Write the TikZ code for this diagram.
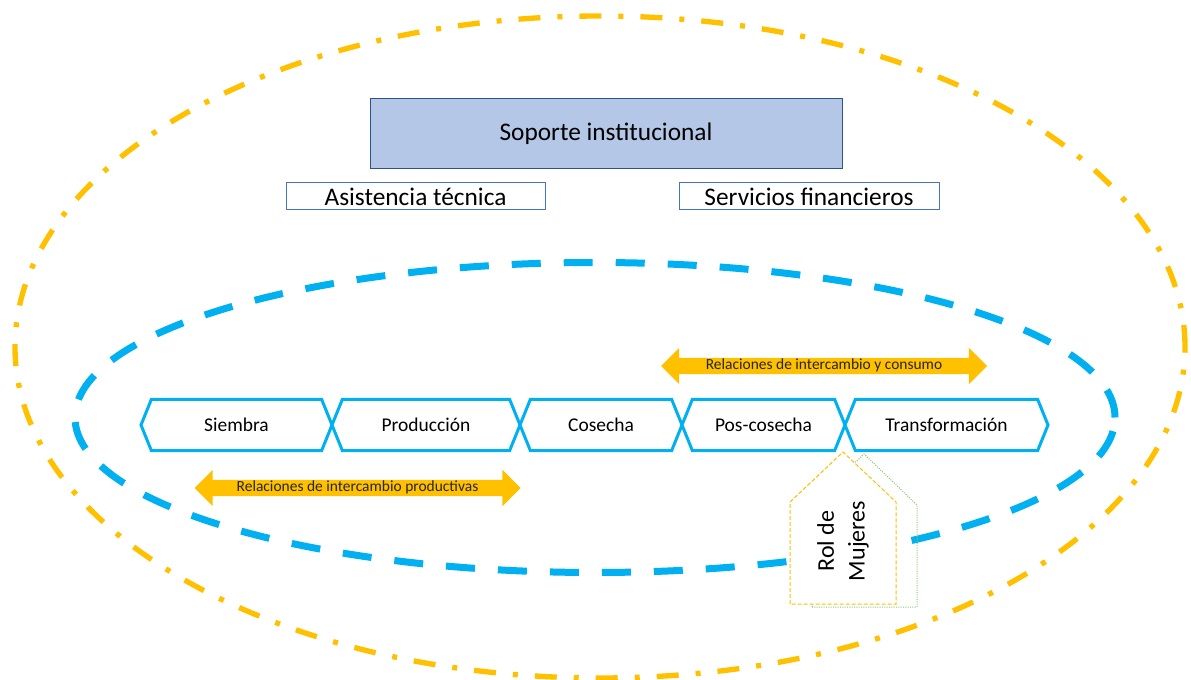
\documentclass[tikz,border=0pt]{standalone}
\usepackage{fontspec}
\setmainfont{Carlito}
\usetikzlibrary{shapes.symbols,shapes.arrows,positioning}
\definecolor{naranja}{HTML}{FFC000}
\definecolor{celeste}{HTML}{00B0F0}
\definecolor{azulfondo}{HTML}{B4C7E7}
\definecolor{azulborde}{HTML}{2F528F}
\definecolor{azulmarco}{HTML}{4472C4}
\definecolor{verde}{HTML}{8CC168}
\definecolor{texto}{HTML}{262626}
\tikzset{
	eslabon/.style={draw=celeste,line width=2.25pt,fill=white,signal,signal to=west and east,signal pointer angle=136,minimum height=38.25pt,inner xsep=0pt,outer sep=0pt,font=\fontsize{14.6}{17}\selectfont},
	servicio/.style={draw=azulmarco,line width=0.75pt,minimum width=194.25pt,minimum height=20.25pt,inner sep=0pt,font=\fontsize{19}{22}\selectfont},
	relacion/.style={double arrow,fill=naranja,minimum height=244.5pt,double arrow head extend=7.5pt,inner xsep=0pt,inner ysep=0.3pt,text height=8.5pt,text depth=2.6pt,font=\fontsize{11.6}{13}\selectfont,text=texto}
}
\begin{document}
\begin{tikzpicture}[x=0.75pt,y=-0.75pt]
		\useasboundingbox (0,0) rectangle (1191,680);
		% entornos
		\draw[naranja,line width=4pt,dash pattern=on 16.5pt off 12.75pt on 3.75pt off 12.75pt] (600,347) ellipse [x radius=438.75pt,y radius=248.25pt];
		\draw[celeste,line width=5.25pt,dash pattern=on 21.75pt off 17.25pt] (595,417.5) ellipse [x radius=390pt,y radius=116.25pt];
		% soporte
		\node[draw=azulborde,fill=azulfondo,line width=0.75pt,minimum width=354pt,minimum height=52.5pt,font=\fontsize{19}{22}\selectfont] (soporte) at (606,134) {Soporte institucional};
		\node[servicio] (asistencia) at (415.5,196.5) {Asistencia técnica};
		\node[servicio,minimum width=195pt] (financieros) at (809,196.5) {Servicios financieros};
		% cadena
		\node[eslabon,minimum width=143.25pt] (siembra) at (236.5,425) {Siembra};
		\node[eslabon,minimum width=141pt] (produccion) at (426,425) {Producción};
		\node[eslabon,minimum width=121.5pt] (cosecha) at (601,425) {Cosecha};
		\node[eslabon,minimum width=122.25pt] (poscosecha) at (763.5,425) {Pos-cosecha};
		\node[eslabon,minimum width=152.25pt] (transformacion) at (946.5,425) {Transformación};
		% relaciones
		\node[relacion] (consumo) at (824,366) {Relaciones de intercambio y consumo};
		\node[relacion] (productivas) at (357.5,488) {Relaciones de intercambio productivas};
		% rol de mujeres
		\draw[verde,densely dotted,line width=0.75pt] (812,607) -- (917,607) -- (917,505) -- (864,454) -- (811,505) -- cycle;
		\draw[naranja,dash pattern=on 3pt off 1.5pt,line width=0.75pt,fill=white] (790,604) -- (790,502) -- (843,452) -- (896,502) -- (896,604) -- cycle;
		\node[rotate=90,align=center,font=\fontsize{18}{23}\selectfont] (rol) at (843,541) {Rol de\\Mujeres};
\end{tikzpicture}
\end{document}
